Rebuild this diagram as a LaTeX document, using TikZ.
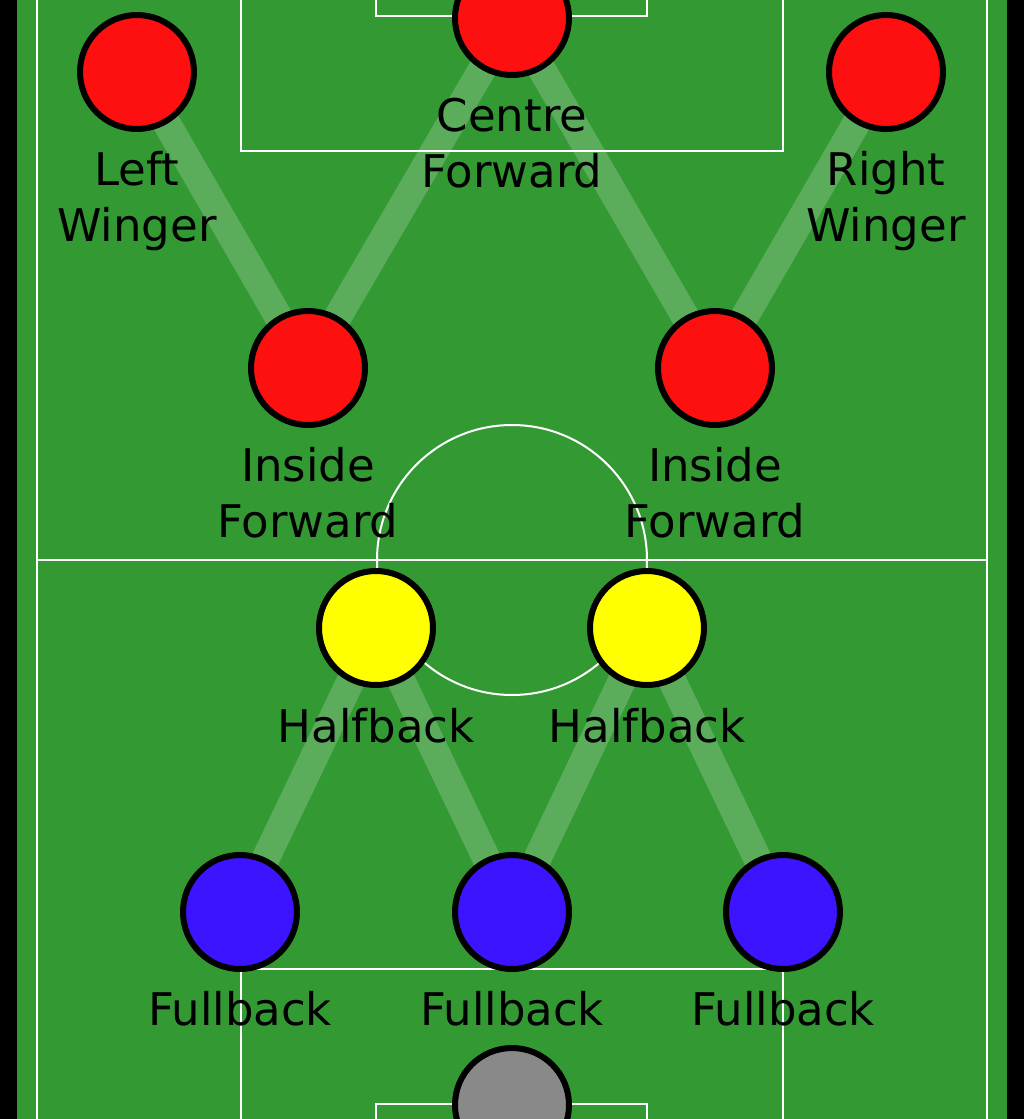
\documentclass[tikz,border=0pt]{standalone}
\usepackage{fontspec}
\setmainfont{DejaVu Sans}
\usetikzlibrary{backgrounds}
\definecolor{rasen}{HTML}{339933}
\definecolor{sturm}{HTML}{FF1010}
\definecolor{laeufer}{HTML}{FFFF00}
\definecolor{abwehr}{HTML}{3C14FF}
\definecolor{tor}{HTML}{898989}
\begin{document}
\begin{tikzpicture}[x=1pt,y=-1pt]
			\tikzstyle{every node}=[font=\fontsize{45}{56}\selectfont]
			\tikzstyle{spieler}=[circle,draw=black,line width=6pt,minimum size=114pt,inner sep=0pt]
			\tikzstyle{rolle}=[anchor=base,align=center,inner sep=0pt]
			\tikzstyle{bahn}=[white,opacity=0.2,line width=28pt]
			\tikzstyle{linie}=[white,line width=2pt]
			\useasboundingbox (0,0) rectangle (1024,1119);
			
			%Spieler
			\node[spieler,fill=sturm] (lw) at (137,72) {};
			\node[spieler,fill=sturm] (cf) at (512,18) {};
			\node[spieler,fill=sturm] (rw) at (886,72) {};
			\node[spieler,fill=sturm] (lif) at (308,368) {};
			\node[spieler,fill=sturm] (rif) at (715,368) {};
			\node[spieler,fill=laeufer] (lh) at (376,628) {};
			\node[spieler,fill=laeufer] (rh) at (647,628) {};
			\node[spieler,fill=abwehr] (lfb) at (240,912) {};
			\node[spieler,fill=abwehr] (cfb) at (512,912) {};
			\node[spieler,fill=abwehr] (rfb) at (783,912) {};
			\node[spieler,fill=tor] (tw) at (512,1105) {};
			
			%Namen (base = letzte Zeile)
			\node[rolle] (lwname) at (137,241) {Left\\Winger};
			\node[rolle] (cfname) at (512,187) {Centre\\Forward};
			\node[rolle] (rwname) at (886,241) {Right\\Winger};
			\node[rolle] (lifname) at (308,537) {Inside\\Forward};
			\node[rolle] (rifname) at (715,537) {Inside\\Forward};
			\node[rolle] (lhname) at (376,742) {Halfback};
			\node[rolle] (rhname) at (647,742) {Halfback};
			\node[rolle] (lfbname) at (240,1025) {Fullback};
			\node[rolle] (cfbname) at (512,1025) {Fullback};
			\node[rolle] (rfbname) at (783,1025) {Fullback};
			
			\begin{pgfonlayer}{background}
			%Feld
			\fill[black] (0,0) rectangle (1024,1119);
			\fill[rasen] (17,0) rectangle (1007,1119);
			\draw[linie] (37,-10) -- (37,1130) (987,-10) -- (987,1130) (37,560) -- (987,560);
			\draw[linie] (512,560) circle (135pt);
			\draw[linie] (241,-10) -- (241,151) -- (783,151) -- (783,-10);
			\draw[linie] (376,-10) -- (376,16) -- (647,16) -- (647,-10);
			\draw[linie] (241,1130) -- (241,969) -- (783,969) -- (783,1130);
			\draw[linie] (376,1130) -- (376,1104) -- (647,1104) -- (647,1130);
			
			%Verbindungen
			\draw[bahn] (lw.center) -- (lif.center);
			\draw[bahn] (cf.center) -- (lif.center);
			\draw[bahn] (cf.center) -- (rif.center);
			\draw[bahn] (rw.center) -- (rif.center);
			\draw[bahn] (lh.center) -- (lfb.center);
			\draw[bahn] (lh.center) -- (cfb.center);
			\draw[bahn] (rh.center) -- (cfb.center);
			\draw[bahn] (rh.center) -- (rfb.center);
			\end{pgfonlayer}
			
\end{tikzpicture}
\end{document}
